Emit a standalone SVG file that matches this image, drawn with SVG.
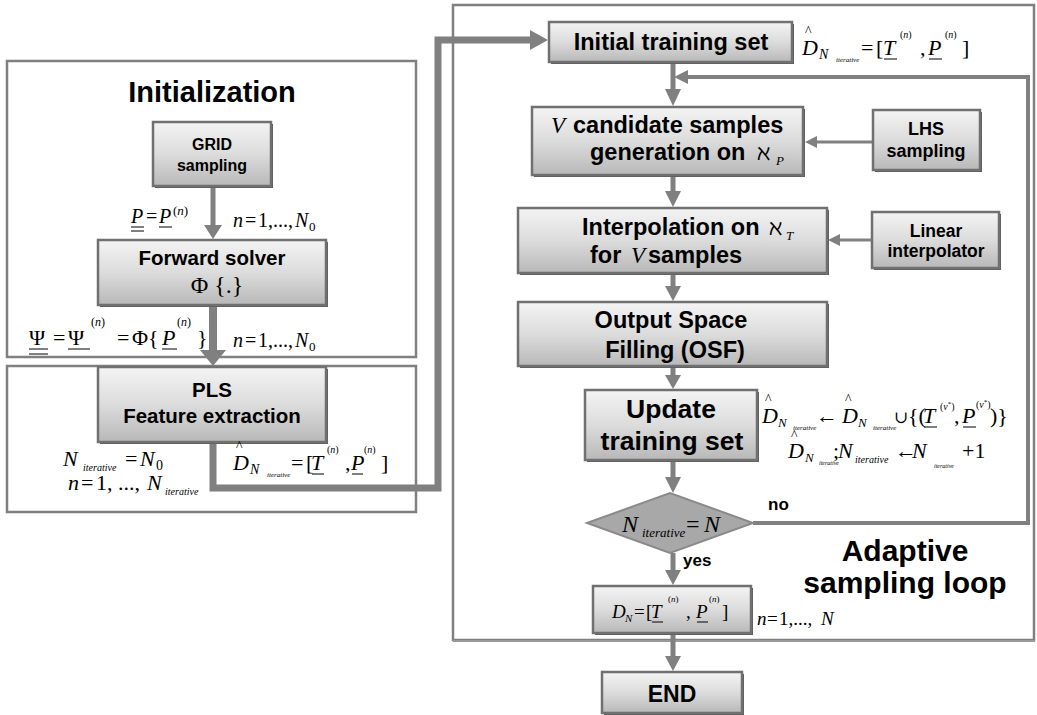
<svg xmlns="http://www.w3.org/2000/svg" width="1037" height="715" viewBox="0 0 1037 715">
<defs>
<linearGradient id="g" x1="0" y1="0" x2="0" y2="1">
<stop offset="0" stop-color="#f4f4f4"/>
<stop offset="0.5" stop-color="#dcdcdc"/>
<stop offset="1" stop-color="#b8b8b8"/>
</linearGradient>
<style>
.frame{fill:#fff;stroke:#808080;stroke-width:2.5}
.box{fill:url(#g);stroke:#707070;stroke-width:2.5}
.sh{fill:#5e5e5e}
.dia{fill:#a8a8a8;stroke:#8a8a8a;stroke-width:2}
.c{fill:none;stroke:#808080;stroke-linejoin:miter}
.ah{fill:#808080}
.t{font-family:"Liberation Sans",Arial,sans-serif;font-weight:bold;fill:#000;text-anchor:middle}
.tl{font-family:"Liberation Sans",Arial,sans-serif;font-weight:bold;fill:#000}
.m{font-family:"Liberation Serif","Times New Roman","DejaVu Serif",serif;fill:#000}
.i{font-style:italic}
.ul{stroke:#000;stroke-width:1}
</style>
</defs>
<rect width="1037" height="715" fill="#fff"/>

<g id="frames">
<rect class="frame" x="7" y="61" width="409" height="296"/>
<rect class="frame" x="7" y="366" width="409" height="146"/>
<rect class="frame" x="453" y="5" width="581" height="635"/>
<line x1="453" y1="641" x2="1035" y2="641" stroke="#9a9a9a" stroke-width="2"/>
</g>

<g id="connectors">
<line class="c" x1="213" y1="186" x2="213" y2="226" stroke-width="5"/>
<polygon class="ah" points="204,225 222,225 213,239"/>
<line class="c" x1="213" y1="305" x2="213" y2="352" stroke-width="8"/>
<polygon class="ah" points="200,350 226,350 213,366"/>
<polyline class="c" points="213,442 213,488 438,488 438,40 532,40" stroke-width="7"/>
<polygon class="ah" points="530,30 548,40 530,50"/>
<line class="c" x1="673" y1="62" x2="673" y2="90" stroke-width="5"/>
<polygon class="ah" points="665,89 681,89 673,106"/>
<line class="c" x1="673" y1="175" x2="673" y2="192" stroke-width="5"/>
<polygon class="ah" points="665,191 681,191 673,207"/>
<line class="c" x1="673" y1="273" x2="673" y2="287" stroke-width="5"/>
<polygon class="ah" points="665,286 681,286 673,301"/>
<line class="c" x1="673" y1="366" x2="673" y2="376" stroke-width="5"/>
<polygon class="ah" points="665,375 681,375 673,389"/>
<line class="c" x1="673" y1="460" x2="673" y2="478" stroke-width="5"/>
<polygon class="ah" points="665,477 681,477 673,493"/>
<line class="c" x1="673" y1="553" x2="673" y2="571" stroke-width="5"/>
<polygon class="ah" points="665,570 681,570 673,585"/>
<line class="c" x1="673" y1="634" x2="673" y2="657" stroke-width="5"/>
<polygon class="ah" points="665,656 681,656 673,671"/>
<polyline class="c" points="753,523 1028,523 1028,77 686,77" stroke-width="4"/>
<polygon class="ah" points="688,70 688,84 674,77"/>
<line class="c" x1="873" y1="142" x2="815" y2="142" stroke-width="3"/>
<polygon class="ah" points="817,136 817,148 805,142"/>
<line class="c" x1="872" y1="240" x2="838" y2="240" stroke-width="3"/>
<polygon class="ah" points="840,234 840,246 828,240"/>
</g>

<g id="initialization-label">
<text class="t" x="212" y="102" font-size="29">Initialization</text>
</g>

<g id="grid">
<rect class="sh" x="155" y="124" width="118" height="64"/>
<rect class="box" x="153" y="122" width="118" height="64"/>
<text class="t" x="212" y="150" font-size="16">GRID</text>
<text class="t" x="212" y="171" font-size="16">sampling</text>
</g>

<g id="eqA">
<text class="m" font-size="20" y="223"><tspan x="131" class="i">P</tspan><tspan x="146">=</tspan><tspan x="159" class="i">P</tspan><tspan x="173" y="215" font-size="13">(<tspan class="i">n</tspan>)</tspan></text>
<line class="ul" x1="131" y1="227" x2="144" y2="227"/>
<line class="ul" x1="131" y1="231" x2="144" y2="231"/>
<line class="ul" x1="159" y1="227" x2="172" y2="227"/>
<text class="m" font-size="20" y="227"><tspan x="233" class="i">n</tspan><tspan x="245">=</tspan><tspan x="258">1,...,</tspan><tspan x="295" class="i">N</tspan><tspan x="309" y="231" font-size="13">0</tspan></text>
</g>

<g id="forward">
<rect class="sh" x="100" y="242" width="228" height="65"/>
<rect class="box" x="98" y="240" width="228" height="65"/>
<text class="t" x="212" y="265" font-size="20.5">Forward solver</text>
<text class="m" x="217" y="293" font-size="24" text-anchor="middle">Φ {.}</text>
</g>

<g id="eqB">
<text class="m" font-size="22" y="345"><tspan x="29">Ψ</tspan><tspan x="53">=</tspan><tspan x="68">Ψ</tspan><tspan x="91" y="326" font-size="12">(<tspan class="i">n</tspan>)</tspan><tspan x="117" y="345">=</tspan><tspan x="132">Φ{</tspan><tspan x="162" class="i">P</tspan><tspan x="177" y="326" font-size="12">(<tspan class="i">n</tspan>)</tspan><tspan x="197" y="345">}</tspan></text>
<line class="ul" x1="29" y1="349" x2="48" y2="349"/>
<line class="ul" x1="29" y1="354" x2="48" y2="354"/>
<line class="ul" x1="68" y1="349" x2="90" y2="349"/>
<line class="ul" x1="162" y1="349" x2="177" y2="349"/>
<text class="m" font-size="20" y="347"><tspan x="233" class="i">n</tspan><tspan x="245">=</tspan><tspan x="258">1,...,</tspan><tspan x="295" class="i">N</tspan><tspan x="309" y="351" font-size="13">0</tspan></text>
</g>

<g id="pls">
<rect class="sh" x="100" y="369" width="228" height="75"/>
<rect class="box" x="98" y="367" width="228" height="75"/>
<text class="t" x="212" y="397" font-size="20.5">PLS</text>
<text class="t" x="212" y="423" font-size="20.5">Feature extraction</text>
</g>

<g id="eqC">
<text class="m" font-size="22" y="466"><tspan x="63" class="i">N</tspan><tspan x="83" y="471" font-size="10" class="i">iterative</tspan><tspan x="125" y="466">=</tspan><tspan x="140" class="i">N</tspan><tspan x="156" y="470" font-size="14">0</tspan></text>
<text class="m" font-size="22" y="490"><tspan x="68" class="i">n</tspan><tspan x="81">=</tspan><tspan x="96">1, ...,</tspan><tspan x="147" class="i">N</tspan><tspan x="165" y="495" font-size="10" class="i">iterative</tspan></text>
</g>

<g id="eqD">
<text class="m" font-size="14" x="236" y="451">^</text>
<text class="m" font-size="22" y="470"><tspan x="233" class="i">D</tspan><tspan x="250" y="474" font-size="14" class="i">N</tspan><tspan x="267" y="477" font-size="7" class="i">iterative</tspan><tspan x="291" y="470">=</tspan><tspan x="306">[</tspan><tspan x="311" class="i">T</tspan><tspan x="327" y="453" font-size="10">(<tspan class="i">n</tspan>)</tspan><tspan x="345" y="470">,</tspan><tspan x="351" class="i">P</tspan><tspan x="364" y="453" font-size="10">(<tspan class="i">n</tspan>)</tspan><tspan x="381" y="470">]</tspan></text>
<line class="ul" x1="312" y1="474" x2="324" y2="474"/>
<line class="ul" x1="352" y1="474" x2="363" y2="474"/>
</g>

<g id="initial">
<rect class="sh" x="551" y="24" width="243" height="40"/>
<rect class="box" x="549" y="22" width="243" height="40"/>
<text class="t" x="671" y="50" font-size="23.5">Initial training set</text>
</g>

<g id="eqE">
<text class="m" font-size="14" x="805" y="36">^</text>
<text class="m" font-size="22" y="55"><tspan x="802" class="i">D</tspan><tspan x="819" y="59" font-size="14" class="i">N</tspan><tspan x="836" y="62" font-size="7" class="i">iterative</tspan><tspan x="861" y="55">=</tspan><tspan x="876">[</tspan><tspan x="883" class="i">T</tspan><tspan x="900" y="38" font-size="10">(<tspan class="i">n</tspan>)</tspan><tspan x="920" y="55">,</tspan><tspan x="928" class="i">P</tspan><tspan x="945" y="38" font-size="10">(<tspan class="i">n</tspan>)</tspan><tspan x="962" y="55">]</tspan></text>
<line class="ul" x1="884" y1="59" x2="897" y2="59"/>
<line class="ul" x1="929" y1="59" x2="942" y2="59"/>
</g>

<g id="vcand">
<rect class="sh" x="534" y="109" width="271" height="68"/>
<rect class="box" x="532" y="107" width="271" height="68"/>
<text class="m i" x="551" y="133" font-size="23">V</text>
<text class="tl" x="573" y="133" font-size="23.5">candidate samples</text>
<text class="tl" x="590" y="160" font-size="23.5">generation on</text>
<text class="m" x="757" y="160" font-size="22">ℵ</text>
<text class="m i" x="776" y="165" font-size="13">P</text>
</g>

<g id="lhs">
<rect class="sh" x="875" y="112" width="107" height="60"/>
<rect class="box" x="873" y="110" width="107" height="60"/>
<text class="t" x="926" y="135" font-size="18">LHS</text>
<text class="t" x="926" y="157" font-size="18">sampling</text>
</g>

<g id="interp">
<rect class="sh" x="520" y="210" width="309" height="65"/>
<rect class="box" x="518" y="208" width="309" height="65"/>
<text class="tl" x="582" y="235" font-size="23.5">Interpolation on</text>
<text class="m" x="769" y="235" font-size="22">ℵ</text>
<text class="m i" x="786" y="240" font-size="13">T</text>
<text class="tl" x="590" y="263" font-size="23.5">for</text>
<text class="m i" x="631" y="263" font-size="23">V</text>
<text class="tl" x="648" y="263" font-size="23.5">samples</text>
</g>

<g id="linear">
<rect class="sh" x="874" y="214" width="127" height="56"/>
<rect class="box" x="872" y="212" width="127" height="56"/>
<text class="t" x="936" y="237" font-size="17.5">Linear</text>
<text class="t" x="936" y="257" font-size="17.5">interpolator</text>
</g>

<g id="osf">
<rect class="sh" x="520" y="304" width="309" height="64"/>
<rect class="box" x="518" y="302" width="309" height="64"/>
<text class="t" x="671" y="328" font-size="23.5">Output Space</text>
<text class="t" x="675" y="358" font-size="23.5">Filling (OSF)</text>
</g>

<g id="update">
<rect class="sh" x="587" y="392" width="172" height="70"/>
<rect class="box" x="585" y="390" width="172" height="70"/>
<text class="t" x="671" y="418" font-size="26.5">Update</text>
<text class="t" x="672" y="450" font-size="26.5">training set</text>
</g>

<g id="eqF">
<text class="m" font-size="14" x="765" y="404">^</text>
<text class="m" font-size="14" x="845" y="404">^</text>
<text class="m" font-size="22" y="423"><tspan x="762" class="i">D</tspan><tspan x="778" y="427" font-size="13" class="i">N</tspan><tspan x="793" y="430" font-size="7" class="i">iterative</tspan><tspan x="816" y="423">←</tspan><tspan x="842" class="i">D</tspan><tspan x="858" y="427" font-size="13" class="i">N</tspan><tspan x="873" y="430" font-size="7" class="i">iterative</tspan><tspan x="894" y="423" font-size="17">∪</tspan><tspan x="908" font-size="22">{(</tspan><tspan x="923" class="i">T</tspan><tspan x="940" y="410" font-size="10">(<tspan class="i">v</tspan><tspan font-size="7" dy="-4">*</tspan><tspan dy="4">)</tspan></tspan><tspan x="954" y="423">,</tspan><tspan x="962" class="i">P</tspan><tspan x="976" y="408" font-size="10">(<tspan class="i">v</tspan><tspan font-size="7" dy="-4">*</tspan><tspan dy="4">)</tspan></tspan><tspan x="990" y="423">)}</tspan></text>
<line class="ul" x1="924" y1="427" x2="937" y2="427"/>
<line class="ul" x1="963" y1="427" x2="976" y2="427"/>
<text class="m" font-size="14" x="791" y="440">^</text>
<text class="m" font-size="22" y="458"><tspan x="788" class="i">D</tspan><tspan x="805" y="462" font-size="13" class="i">N</tspan><tspan x="819" y="465" font-size="6" class="i">iterative</tspan><tspan x="833" y="458">;</tspan><tspan x="838" class="i">N</tspan><tspan x="855" y="463" font-size="10" class="i">iterative</tspan><tspan x="895" y="458">←</tspan><tspan x="912" class="i">N</tspan><tspan x="934" y="468" font-size="6" class="i">iterative</tspan><tspan x="962" y="458">+1</tspan></text>
</g>

<g id="decision">
<polygon class="dia" points="587,523 670,493 753,523 670,553"/>
<text class="m" font-size="24" y="532"><tspan x="622" class="i">N</tspan><tspan x="642" y="537" font-size="13" class="i">iterative</tspan><tspan x="686" y="532">=</tspan><tspan x="704" class="i">N</tspan></text>
</g>

<g id="labels">
<text class="tl" x="768" y="510" font-size="17">no</text>
<text class="tl" x="683" y="566" font-size="17">yes</text>
<text class="t" x="905" y="561" font-size="30">Adaptive</text>
<text class="t" x="905" y="593" font-size="30">sampling loop</text>
</g>

<g id="dn">
<rect class="sh" x="595" y="588" width="158" height="47"/>
<rect class="box" x="593" y="586" width="158" height="47"/>
<text class="m" font-size="19" y="618"><tspan x="612" class="i">D</tspan><tspan x="625" y="622" font-size="11" class="i">N</tspan><tspan x="634" y="618">=</tspan><tspan x="646">[</tspan><tspan x="651" class="i">T</tspan><tspan x="668" y="602" font-size="9">(<tspan class="i">n</tspan>)</tspan><tspan x="686" y="618">,</tspan><tspan x="696" class="i">P</tspan><tspan x="709" y="602" font-size="9">(<tspan class="i">n</tspan>)</tspan><tspan x="722" y="618">]</tspan></text>
<line class="ul" x1="652" y1="622" x2="663" y2="622"/>
<line class="ul" x1="697" y1="622" x2="708" y2="622"/>
<text class="m" font-size="19" y="625"><tspan x="757" class="i">n</tspan><tspan x="767">=</tspan><tspan x="779">1,...,</tspan><tspan x="821" class="i">N</tspan></text>
</g>

<g id="end">
<rect class="sh" x="604" y="674" width="140" height="41"/>
<rect class="box" x="602" y="672" width="140" height="41"/>
<text class="t" x="672" y="702" font-size="23">END</text>
</g>
</svg>
